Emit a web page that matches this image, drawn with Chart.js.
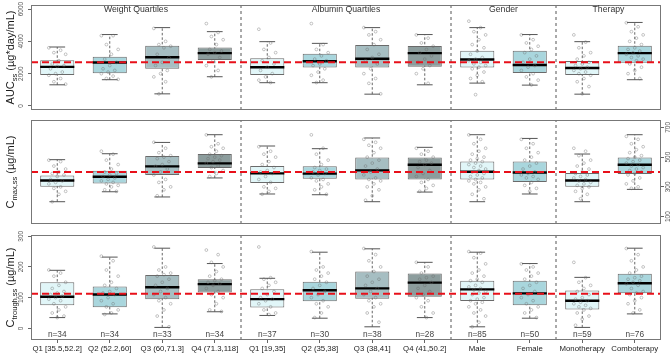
<!DOCTYPE html>
<html><head><meta charset="utf-8">
<script src="https://cdn.jsdelivr.net/npm/chart.js@4.4.1/dist/chart.umd.min.js"></script>
<style>
html,body{margin:0;padding:0;background:#fff;}
#wrap{position:relative;width:672px;height:356px;overflow:hidden;background:#fff;}
canvas{position:absolute;left:0;}
</style></head><body>
<div id="wrap">
<canvas id="c1" width="672" height="115" style="top:0px"></canvas>
<canvas id="c2" width="672" height="115" style="top:115px"></canvas>
<canvas id="c3" width="672" height="126" style="top:230px"></canvas>
</div>
<script>
// ---------- DATA ----------
const categories = ['Q1 [35.5,52.2]','Q2 (52.2,60]','Q3 (60,71.3]','Q4 (71.3,118]','Q1 [19,35]','Q2 (35,38]','Q3 (38,41]','Q4 (41,50.2]','Male','Female','Monotherapy','Comboterapy'];
const groupNames = ['Weight Quartiles','Albumin Quartiles','Gender','Therapy'];
const groupSpans = [[1,4],[5,8],[9,10],[11,12]];
const separators = [4.5, 8.5, 10.5];
const nCounts = [34,34,33,34,37,30,38,28,85,50,59,76];

// AUCss (ug*day/mL)
const aucTicks = [0,2000,4000,6000];
const aucRef = 2700;
const aucLow  = [1310,1625, 750,1810,1440,1440, 730,1310,1415,1290, 730,1625];
const aucQ1   = [1920,2020,2310,2850,1920,2375,2375,2420,2375,2040,1920,2670];
const aucMed  = [2420,2690,3020,3270,2400,2770,2920,3270,2875,2540,2350,3270];
const aucQ3   = [2830,3040,3730,3620,2960,3230,3770,3710,3420,3420,2790,3730];
const aucHigh = [3650,4420,4850,4600,3980,3875,4850,4420,4850,4420,3980,5170];
const aucPoints = [
  [3600,3450,3300,3200,2800,2600,2500,2450,2300,2100,2000,1900,1700,1500,1350],
  [4350,4350,3800,3500,3200,2900,2700,2500,2300,2200,2100,2000,1850,1700,1650],
  [4800,4000,3800,3700,3600,3200,3000,2700,2500,2200,2000,1800,1500,750],
  [5100,4550,4300,4100,3800,3500,3400,3300,3200,3000,2800,2500,2200,1800],
  [4750,3900,3500,3300,3000,2800,2600,2400,2200,2000,1800,1600,1450],
  [5100,3800,3500,3300,3100,2900,2800,2600,2500,2300,2100,1900,1600,1450],
  [4850,4600,4400,4100,3800,3500,3200,3000,2800,2600,2300,2000,1700,1400,750],
  [4400,4200,3900,3700,3500,3300,3100,2900,2700,2500,2300,2000,1400],
  [5250,4850,4600,4400,4100,3800,3600,3400,3200,3000,2900,2800,2700,2600,2500,2400,2300,2100,1900,1700,1500,700],
  [4400,4100,3900,3700,3500,3300,3100,2900,2700,2500,2400,2200,2000,1800,1600,1300],
  [4400,3950,3600,3300,3100,2900,2700,2600,2500,2400,2300,2200,2100,2000,1900,1700,1500,1200,750],
  [5150,4900,4600,4400,4200,4000,3800,3600,3500,3400,3300,3200,3100,3000,2900,2800,2600,2400,2200,2000,1700]
];

// Cmax,ss (ug/mL)
const cmaxTicks = [100,300,500,700];
const cmaxRef = 400;
const cmaxLow  = [200,267,232,360,252,247,200,265,200,252,200,283];
const cmaxQ1   = [301,323,380,427,326,355,350,350,350,333,301,386];
const cmaxMed  = [343,368,438,458,391,389,411,449,402,397,343,449];
const cmaxQ3   = [377,409,508,521,440,438,498,498,471,471,393,498];
const cmaxHigh = [483,523,599,651,575,557,629,566,651,626,521,651];
const cmaxPoints = [
  [480,470,440,420,400,390,380,370,350,340,330,320,300,290,270,250,200],
  [540,520,480,450,420,400,390,380,370,360,350,340,330,320,310,300,280,270],
  [600,560,530,510,500,490,470,450,440,420,400,380,350,330,300,280,240],
  [650,590,570,560,540,520,510,500,490,480,470,460,440,430,410,390,370],
  [570,540,520,500,470,450,430,410,400,390,370,350,330,300,290,270,250],
  [650,560,520,480,450,430,420,410,400,390,380,360,350,340,320,300,280,250],
  [620,600,580,560,530,500,480,460,440,420,400,380,360,350,340,320,300,280,240,210],
  [560,540,520,500,480,470,460,450,430,410,390,370,350,330,310,290,270],
  [650,620,590,560,540,520,500,490,480,470,460,450,440,430,420,410,400,390,380,370,360,350,340,330,320,300,280,250,220],
  [620,590,560,530,500,480,460,440,420,400,390,380,370,360,350,330,310,290,270],
  [560,540,510,480,460,440,420,400,390,380,370,360,350,340,330,320,310,300,290,270,250,220],
  [640,620,590,570,550,530,510,500,490,480,470,460,450,440,430,420,410,400,390,380,360,340,320,300,290]
];

// Ctrough,ss (ug/mL)
const ctrTicks = [0,100,200,300];
const ctrRef = 113;
const ctrLow  = [ 35, 47,  3, 54, 42, 33,  5, 35,  5, 33,  3, 47];
const ctrQ1   = [ 75, 69, 95,117, 68, 88, 96,103, 89, 75, 61,114];
const ctrMed  = [103,110,134,144, 95,124,130,149,127,114, 90,147];
const ctrQ3   = [150,136,174,160,127,152,185,179,155,155,123,178];
const ctrHigh = [189,232,261,211,163,248,259,215,248,211,166,261];
const ctrPoints = [
  [190,180,170,150,140,130,120,115,110,105,100,95,90,80,70,60,50,40,35],
  [235,220,190,170,150,140,130,120,115,110,100,90,80,70,60,50,45],
  [265,200,190,180,175,170,160,150,140,130,120,110,100,90,80,60,40,5],
  [255,240,215,200,185,170,160,155,150,145,140,130,120,110,100,80,60,55],
  [265,165,160,150,140,130,120,110,100,95,90,80,70,60,50,45],
  [250,200,190,180,170,160,150,140,130,120,110,100,90,80,70,50,35],
  [260,240,220,200,185,170,160,150,140,130,120,110,100,90,80,70,50,20],
  [215,200,180,170,165,160,150,140,130,120,110,100,90,70,50,35],
  [250,245,230,210,190,180,170,160,155,150,140,135,130,125,120,115,110,100,95,90,85,80,70,60,50,40,20,5],
  [210,200,190,180,170,160,150,140,130,120,110,100,90,80,70,60,50,35],
  [215,165,150,140,130,120,110,100,95,90,85,80,75,70,65,60,50,40,30,10],
  [260,240,220,200,190,180,170,165,160,155,150,145,140,130,120,115,110,100,90,80,60,50]
];

// ---------- STYLE ----------
const FONT = '"Liberation Sans", Arial, Helvetica, sans-serif';
const boxFill = ['#e1f6f8','#a9d6dd','#a6bec2','#8c9d9d','#e1f6f8','#a9d6dd','#a6bec2','#8c9d9d','#e1f6f8','#a9d6dd','#e1f6f8','#a9d6dd'];
function jit(k){ return (((k*7)%11)-5)*0.032; }

function buildDatasets(lo,q1,med,q3,hi,pts,ref,ymin,ymax){
  const whisk=[], caps=[], meds=[], scat=[], boxes=[], sep=[];
  for(let i=0;i<categories.length;i++){
    const x=i+1;
    whisk.push({x:x,y:lo[i]},{x:x,y:hi[i]},{x:x,y:null});
    caps.push({x:x-0.15,y:hi[i]},{x:x+0.15,y:hi[i]},{x:x,y:null},{x:x-0.15,y:lo[i]},{x:x+0.15,y:lo[i]},{x:x,y:null});
    meds.push({x:x-0.325,y:med[i]},{x:x+0.325,y:med[i]},{x:x,y:null});
    boxes.push({x:x,y:[q1[i],q3[i]]});
    pts[i].forEach((v,k)=>scat.push({x:x+jit(k),y:v}));
  }
  separators.forEach(s=>sep.push({x:s,y:ymin},{x:s,y:ymax},{x:s,y:null}));
  return [
    {type:'line',data:sep,borderColor:'#555',borderWidth:1,borderDash:[3,3],pointRadius:0,fill:false,order:9},
    {type:'line',data:whisk,borderColor:'#555',borderWidth:0.9,borderDash:[2.5,2],pointRadius:0,fill:false,order:8},
    {type:'line',data:caps,borderColor:'#555',borderWidth:1,pointRadius:0,fill:false,order:8},
    {type:'bar',data:boxes,backgroundColor:boxFill,borderColor:'#6a6a6a',borderWidth:1,borderSkipped:false,
      categoryPercentage:1,barPercentage:0.65,order:7},
    {type:'line',data:meds,borderColor:'#000',borderWidth:2.4,pointRadius:0,fill:false,order:5},
    {type:'scatter',data:scat,pointRadius:1.4,pointBorderWidth:0.7,pointBorderColor:'rgba(105,105,105,0.55)',
      pointBackgroundColor:'rgba(255,255,255,0)',order:4},
    {type:'line',data:[{x:0.5,y:ref},{x:12.5,y:ref}],borderColor:'#e8101a',borderWidth:2,borderDash:[7,4],pointRadius:0,fill:false,order:1}
  ];
}

function drawRich(ctx, parts, cx, cy){
  ctx.save();
  ctx.translate(cx,cy);
  ctx.rotate(-Math.PI/2);
  let total=0;
  parts.forEach(p=>{ ctx.font=p.size+'px '+FONT; p.w=ctx.measureText(p.t).width; total+=p.w; });
  let x=-total/2;
  ctx.fillStyle='#1a1a1a';
  ctx.textBaseline='middle';
  ctx.textAlign='left';
  parts.forEach(p=>{ ctx.font=p.size+'px '+FONT; ctx.fillText(p.t,x,p.sub?3.5:0); x+=p.w; });
  ctx.restore();
}

function panelPlugin(opts){
  return {
    id:'panel',
    afterDraw(chart){
      const ctx=chart.ctx, a=chart.chartArea, ys=chart.scales.y, xs=chart.scales.x;
      ctx.save();
      ctx.strokeStyle='#777'; ctx.lineWidth=1;
      ctx.strokeRect(Math.round(a.left)+0.5,Math.round(a.top)+0.5,Math.round(a.right-a.left)-1,Math.round(a.bottom-a.top)-1);
      ctx.font='6.5px '+FONT; ctx.fillStyle='#555'; ctx.textAlign='center'; ctx.textBaseline='middle';
      opts.ticks.forEach(v=>{
        const y=ys.getPixelForValue(v);
        ctx.save(); ctx.translate(opts.side==='left'?21.5:668,y); ctx.rotate(-Math.PI/2); ctx.fillText(String(v),0,0); ctx.restore();
      });
      drawRich(ctx, opts.title, 11, (a.top+a.bottom)/2);
      if(opts.groups){
        ctx.font='8.7px '+FONT; ctx.fillStyle='#333'; ctx.textAlign='center'; ctx.textBaseline='middle';
        groupNames.forEach((g,i)=>{
          const cx=(xs.getPixelForValue(groupSpans[i][0])+xs.getPixelForValue(groupSpans[i][1]))/2;
          ctx.fillText(g,cx,a.top+4.5);
        });
      }
      if(opts.counts){
        ctx.font='8.3px '+FONT; ctx.fillStyle='#444'; ctx.textAlign='center'; ctx.textBaseline='middle';
        nCounts.forEach((n,i)=>ctx.fillText('n='+n,xs.getPixelForValue(i+1),a.bottom-5.5));
      }
      ctx.restore();
    }
  };
}

function makeChart(id, ds, o){
  const xScale = {type:'linear',min:0.5,max:12.5,offset:false,display:!!o.showX,
    afterBuildTicks:s=>{ s.ticks=categories.map((c,i)=>({value:i+1})); },
    ticks:{autoSkip:false,maxRotation:0,minRotation:0,color:'#222',padding:1,font:{size:7.8,family:FONT},
      callback:v=>categories[Math.round(v)-1]},
    grid:{drawOnChartArea:false,drawTicks:true,tickLength:3,color:'#666',offset:false},
    border:{display:false},
    afterFit:s=>{ s.height=o.showX?16:0; }
  };
  const yScale = {type:'linear',position:o.side,min:o.min,max:o.max,
    afterBuildTicks:s=>{ s.ticks=o.ticks.map(v=>({value:v})); },
    ticks:{display:false},
    grid:{drawOnChartArea:false,drawTicks:true,tickLength:3,color:'#666'},
    border:{display:false},
    afterFit:s=>{ s.width=o.side==='left'?31:11; }
  };
  return new Chart(document.getElementById(id),{
    type:'bar',
    data:{datasets:ds},
    options:{
      responsive:false,animation:false,devicePixelRatio:1,
      layout:{padding:o.padding},
      plugins:{legend:{display:false},tooltip:{enabled:false}},
      scales:{x:xScale,y:yScale}
    },
    plugins:[panelPlugin(o)]
  });
}

makeChart('c1', buildDatasets(aucLow,aucQ1,aucMed,aucQ3,aucHigh,aucPoints,aucRef,-250,6250),
  {side:'left',min:-250,max:6250,ticks:aucTicks,padding:{top:5,bottom:5,left:0,right:11},groups:true,
   title:[{t:'AUC',size:11},{t:'ss',size:7.5,sub:true},{t:' (\u00b5g*day/mL)',size:11}]});
makeChart('c2', buildDatasets(cmaxLow,cmaxQ1,cmaxMed,cmaxQ3,cmaxHigh,cmaxPoints,cmaxRef,50,750),
  {side:'right',min:50,max:750,ticks:cmaxTicks,padding:{top:5,bottom:6,left:31,right:0},
   title:[{t:'C',size:11},{t:'max,ss',size:7.5,sub:true},{t:' (\u00b5g/mL)',size:11}]});
makeChart('c3', buildDatasets(ctrLow,ctrQ1,ctrMed,ctrQ3,ctrHigh,ctrPoints,ctrRef,-38,304),
  {side:'left',min:-38,max:304,ticks:ctrTicks,padding:{top:5,bottom:0,left:0,right:11},counts:true,showX:true,
   title:[{t:'C',size:11},{t:'trough,ss',size:7.5,sub:true},{t:' (\u00b5g/mL)',size:11}]});
</script>
</body></html>
